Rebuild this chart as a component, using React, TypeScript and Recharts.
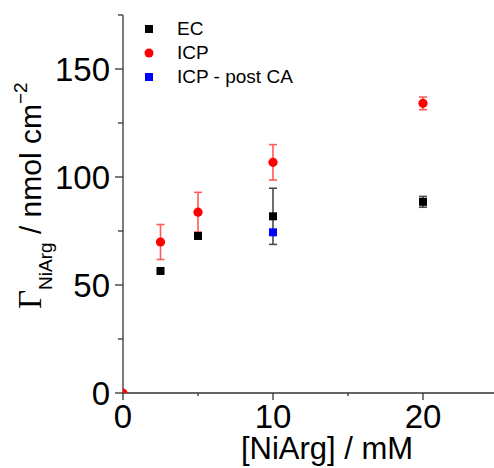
import { ScatterChart, Scatter, XAxis, YAxis, ErrorBar, Legend } from 'recharts'

// ── data ────────────────────────────────────────────────────────────────
const ecX = [2.5, 5, 10, 20]
const ecY = [56.5, 72.7, 81.8, 88.5]
const ecErr = [0, 0, 13, 2.5]

const icpX = [0, 2.5, 5, 10, 20]
const icpY = [0, 69.9, 83.7, 106.8, 134.1]
const icpErr = [0, 8.1, 9.2, 8.2, 2.9]

const postX = [10]
const postY = [74.4]
const postErr = [0]

const xTicks = [0, 5, 10, 15, 20, 25]
const yTicks = [0, 25, 50, 75, 100, 125, 150, 175]

const ecData = ecX.map((x, i) => ({ x, y: ecY[i], err: ecErr[i] }))
const icpData = icpX.map((x, i) => ({ x, y: icpY[i], err: icpErr[i] }))
const postData = postX.map((x, i) => ({ x, y: postY[i], err: postErr[i] }))

const FONT = "'Liberation Sans', Arial, sans-serif"
const AXIS = '#333'

const XTick = (props: any) => {
  const { x, y, payload } = props
  const major = payload.value % 10 === 0
  return (
    <g>
      <line x1={x} x2={x} y1={y} y2={y + (major ? 7 : 3)} stroke={AXIS} strokeWidth={1.3} />
      {major && (
        <text x={x} y={y + 35} textAnchor="middle" fontFamily={FONT} fontSize={33} fill="#000">
          {payload.value}
        </text>
      )}
    </g>
  )
}

const YTick = (props: any) => {
  const { x, y, payload } = props
  const major = payload.value % 50 === 0
  return (
    <g>
      <line x1={x} x2={x - (major ? 8 : 5)} y1={y} y2={y} stroke={AXIS} strokeWidth={1.3} />
      {major && (
        <text x={x - 13} y={y + 12} textAnchor="end" fontFamily={FONT} fontSize={33} fill="#000">
          {payload.value}
        </text>
      )}
    </g>
  )
}

const YLabel = () => (
  <text transform="translate(41,309) rotate(-90)" fontFamily={FONT} fontSize={30} fill="#000">
    <tspan fontFamily="'Liberation Serif', 'Times New Roman', serif" fontSize={33}>Γ</tspan>
    <tspan fontSize={19} dy={11}>NiArg</tspan>
    <tspan dy={-11}> / nmol cm</tspan>
    <tspan fontSize={19} dy={-14}>−2</tspan>
  </text>
)

const XLabel = () => (
  <text x={327} y={459} textAnchor="middle" fontFamily={FONT} fontSize={31} fill="#000">
    [NiArg] / mM
  </text>
)

const squareShape = (color: string) => (p: any) => (
  <rect x={p.cx - 4} y={p.cy - 4} width={8} height={8} fill={color} />
)

const circleShape = (p: any) => {
  // the point sitting on the origin is clipped by the axes in the original
  if (p.payload.x === 0 && p.payload.y === 0) {
    const r = 4.5
    return <path d={`M${p.cx},${p.cy} L${p.cx + r},${p.cy} A${r},${r} 0 0 0 ${p.cx},${p.cy - r} Z`} fill="#ff0000" />
  }
  return <circle cx={p.cx} cy={p.cy} r={4.6} fill="#ff0000" />
}

const legendItems = [
  { name: 'EC', color: '#000000', kind: 'square' },
  { name: 'ICP', color: '#ff0000', kind: 'circle' },
  { name: 'ICP - post CA', color: '#0000ff', kind: 'square' },
]

const LegendBox = () => (
  <div style={{ fontFamily: FONT, fontSize: 19, color: '#000' }}>
    {legendItems.map((it) => (
      <div key={it.name} style={{ display: 'flex', alignItems: 'center', height: 24 }}>
        <svg width={10} height={10} style={{ marginRight: 23 }}>
          {it.kind === 'square' ? (
            <rect x={1} y={1} width={8} height={8} fill={it.color} />
          ) : (
            <circle cx={5} cy={5} r={4.5} fill={it.color} />
          )}
        </svg>
        <span>{it.name}</span>
      </div>
    ))}
  </div>
)

export default function App() {
  return (
    <div style={{ position: 'fixed', left: 0, top: 0, width: 494, height: 468, overflow: 'hidden', background: '#fff' }}>
      <ScatterChart width={500} height={468} margin={{ top: 15, right: 2, left: 0, bottom: 0 }}>
        <XAxis
          type="number"
          dataKey="x"
          domain={[0, 25]}
          ticks={xTicks}
          interval={0}
          height={75}
          tickSize={0}
          tickMargin={0}
          tickLine={false}
          stroke={AXIS}
          strokeWidth={1.3}
          tick={<XTick />}
          label={<XLabel />}
        />
        <YAxis
          type="number"
          dataKey="y"
          domain={[0, 175]}
          ticks={yTicks}
          interval={0}
          width={123}
          tickSize={0}
          tickMargin={0}
          tickLine={false}
          stroke={AXIS}
          strokeWidth={1.3}
          tick={<YTick />}
          label={<YLabel />}
        />
        <Legend
          layout="vertical"
          verticalAlign="middle"
          align="center"
          content={<LegendBox />}
          wrapperStyle={{ top: 17, left: 144, width: 200 }}
        />
        <Scatter name="EC" data={ecData} fill="#000" shape={squareShape('#000000')} isAnimationActive={false}>
          <ErrorBar dataKey="err" direction="y" width={4} stroke="#4a4a4a" strokeWidth={1.6} />
        </Scatter>
        <Scatter name="ICP" data={icpData} fill="#ff0000" shape={circleShape} isAnimationActive={false}>
          <ErrorBar dataKey="err" direction="y" width={4} stroke="#ff5a5a" strokeWidth={1.6} />
        </Scatter>
        <Scatter name="ICP - post CA" data={postData} fill="#0000ff" shape={squareShape('#0000ff')} isAnimationActive={false}>
          <ErrorBar dataKey="err" direction="y" width={4} stroke="#4a4a4a" strokeWidth={1.6} />
        </Scatter>
      </ScatterChart>
    </div>
  )
}
